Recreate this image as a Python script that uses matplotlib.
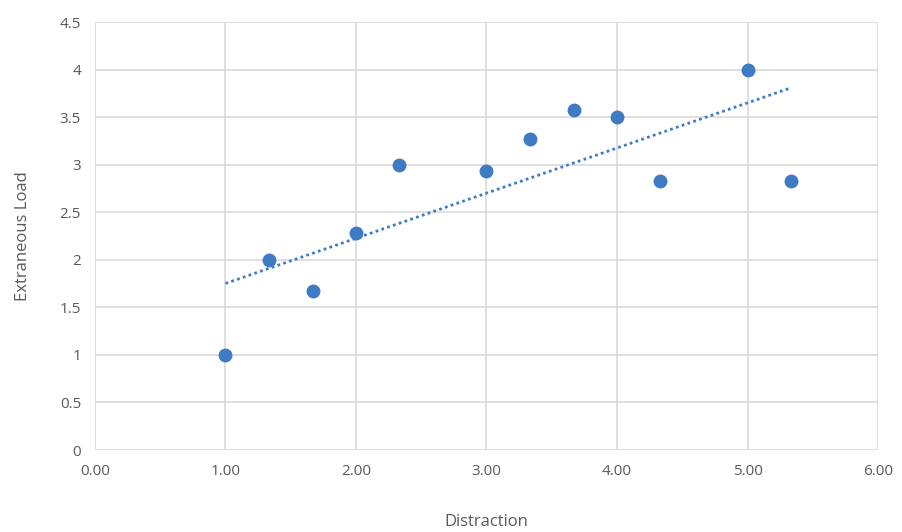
import numpy as np
import matplotlib
matplotlib.use('Agg')
import matplotlib.pyplot as plt
from matplotlib.ticker import FuncFormatter

# data
distraction = [1.00, 1.33, 1.67, 2.00, 2.33, 3.00, 3.33, 3.67, 4.00, 4.33, 5.00, 5.33]
extraneous_load = [1.00, 2.00, 1.67, 2.28, 3.00, 2.93, 3.27, 3.57, 3.50, 2.83, 4.00, 2.83]

x_ticks = [0, 1, 2, 3, 4, 5, 6]
y_ticks = [0, 0.5, 1, 1.5, 2, 2.5, 3, 3.5, 4, 4.5]

blue = '#3E7BC4'
grey_text = '#595959'
grid_col = '#d9d9d9'

plt.rcParams['font.family'] = ['Open Sans', 'DejaVu Sans']

fig = plt.figure(figsize=(9.02, 5.32), dpi=100)
ax = fig.add_axes([0.1053, 0.1541, 0.8681, 0.8045])

ax.scatter(distraction, extraneous_load, s=100, color=blue, zorder=3,
           linewidths=0)

# linear trendline, spans data range like excel
slope, intercept = np.polyfit(distraction, extraneous_load, 1)
tx = np.array([min(distraction), max(distraction)])
ax.plot(tx, slope * tx + intercept, color=blue, lw=2, ls=(0, (1, 1.2)),
        zorder=2)

ax.set_xlim(0, 6)
ax.set_ylim(0, 4.5)
ax.set_xticks(x_ticks)
ax.set_yticks(y_ticks)
ax.xaxis.set_major_formatter(FuncFormatter(lambda v, p: '%.2f' % v))
ax.yaxis.set_major_formatter(FuncFormatter(lambda v, p: '%g' % v))

ax.grid(True, color=grid_col, lw=1.2, zorder=0)
for s in ax.spines.values():
    s.set_visible(False)
ax.tick_params(length=0, colors=grey_text, labelsize=11, pad=10)

ax.set_xlabel('Distraction', color=grey_text, fontsize=12, labelpad=25)
ax.set_ylabel('Extraneous Load', color=grey_text, fontsize=12, labelpad=21)

fig.savefig('out.png', dpi=100)
